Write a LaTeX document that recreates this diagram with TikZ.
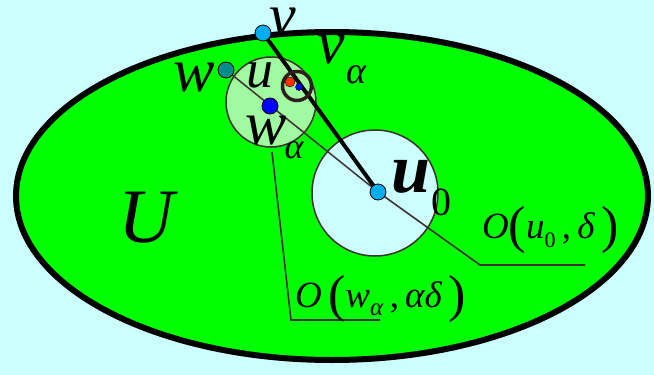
\documentclass[tikz,border=0pt]{standalone}
\usepackage{fontspec}
\setmainfont{Liberation Serif}
\usetikzlibrary{backgrounds}
\definecolor{bgcyan}{RGB}{204,255,255}
\definecolor{lightgrn}{RGB}{160,250,160}
\definecolor{rimbrown}{RGB}{64,48,48}
\definecolor{ringbrown}{RGB}{48,30,30}
\definecolor{tealpt}{RGB}{0,140,140}
\definecolor{redpt}{RGB}{255,51,0}
\newcommand{\fsz}[1]{\fontsize{#1}{#1}\selectfont}
\newcommand{\bigpar}[1]{{\fsz{52}\raisebox{-4pt}{#1}}}

\begin{document}
\begin{tikzpicture}[
    x=1pt, y=-1pt,
    point/.style={circle, draw=black, line width=0.8pt, inner sep=0pt, minimum size=16pt},
    dot/.style={circle, draw=black, line width=0.4pt, inner sep=0pt, minimum size=8pt},
    lbl/.style={inner sep=0pt},
    leader/.style={rimbrown, line width=1.6pt},
]

% Points
\node[point, fill=cyan] (u0) at (378,192) {};
\node[point, fill=cyan] (v) at (263,33) {};
\node[point, fill=tealpt] (w) at (226,70) {};
\node[point, fill=blue] (wA) at (270,106) {};
\node[circle, draw=ringbrown, line width=3.5pt, inner sep=0pt, minimum size=29pt] (ring) at (297,86) {};
\node[dot, fill=redpt, minimum size=10pt] (u) at (290,82) {};
\node[dot, fill=blue, minimum size=7pt] (vA) at (299,87) {};

% Labels
\node[lbl, font=\fsz{60}\itshape] (lv) at (283,22) {v};
\node[lbl, font=\fsz{62}\itshape] (lvA) at (331,50) {v};
\node[lbl, font=\fsz{38}\itshape] (lvAsub) at (356,75) {α};
\node[lbl, font=\fsz{62}\itshape] (lw) at (194,78) {w};
\node[lbl, font=\fsz{54}\itshape] (lu) at (260,75) {u};
\node[lbl, font=\fsz{62}\itshape] (lwA) at (266,131) {w};
\node[lbl, font=\fsz{36}\itshape] (lwAsub) at (294,150) {α};
\node[lbl, font=\fsz{70}\bfseries\itshape] (lu0) at (411,177) {u};
\node[lbl, font=\fsz{40}] (lu0sub) at (441,202) {0};
\node[lbl, font=\fsz{77}\itshape] (lU) at (146,218) {U};
\node[lbl, anchor=base west, font=\fsz{37}] (lball) at (482,238)
    {\textit{O}\bigpar{(}\textit{u}\raisebox{-9pt}{\fsz{22}0}\,,\,\textit{δ}\,\bigpar{)}};
\node[lbl, anchor=base west, font=\fsz{37}] (lsmall) at (295,307)
    {\textit{O}\,\bigpar{(}\textit{w}\raisebox{-8pt}{\fsz{25}\textit{α}}\,,\,\textit{αδ}\,\bigpar{)}};

% Leader coordinates
\coordinate (bendA) at (480,265);
\coordinate (endA) at (585,265);
\coordinate (topB) at (272,152);
\coordinate (bendB) at (291,320);
\coordinate (endB) at (380,320);

\begin{scope}[on background layer]
% Regions
\fill[bgcyan] (0,0) rectangle (654,375);
\draw[line width=6pt, fill=green] (332,196) ellipse [x radius=316pt, y radius=164pt];
\draw[rimbrown, line width=1.5pt, fill=lightgrn] (271,102) circle [radius=45pt];
\draw[rimbrown, line width=1.5pt, fill=bgcyan] (375,193) circle [radius=63pt];

% Segments
\draw[rimbrown, line width=1.5pt] (w.center) -- (u0.center);
\draw[line width=4pt] (v.center) -- (u0.center);
\draw[leader] (u0.center) -- (bendA) -- (endA);
\draw[leader] (topB) -- (bendB) -- (endB);
\end{scope}

\useasboundingbox (0,0) rectangle (654,375);
\end{tikzpicture}
\end{document}
